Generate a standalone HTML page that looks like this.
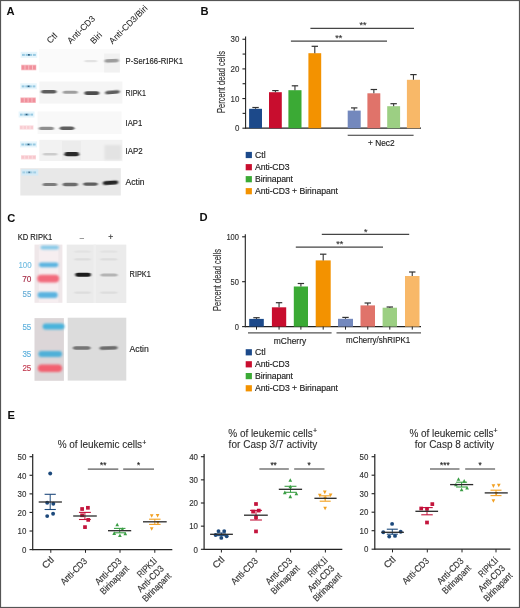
<!DOCTYPE html>
<html><head><meta charset="utf-8"><style>
html,body{margin:0;padding:0;background:#fff;}
body{width:520px;height:608px;overflow:hidden;}
svg{display:block;font-family:"Liberation Sans", sans-serif;}
</style></head><body>
<svg width="520" height="608" viewBox="0 0 520 608">
<defs>
<filter id="gblur" x="0" y="0" width="100%" height="100%" filterUnits="userSpaceOnUse"><feGaussianBlur stdDeviation="0.3"/></filter>
<filter id="b3" x="-20%" y="-100%" width="140%" height="300%"><feGaussianBlur stdDeviation="0.3"/></filter>
<filter id="b4" x="-10%" y="-10%" width="120%" height="120%"><feGaussianBlur stdDeviation="0.4"/></filter>
<filter id="bb" x="-20%" y="-150%" width="140%" height="400%"><feGaussianBlur stdDeviation="0.9 0.6"/></filter>
<filter id="b5" x="-20%" y="-100%" width="140%" height="300%"><feGaussianBlur stdDeviation="0.5"/></filter>
<filter id="b6" x="-20%" y="-100%" width="140%" height="300%"><feGaussianBlur stdDeviation="0.6"/></filter>
<filter id="b10" x="-20%" y="-100%" width="140%" height="300%"><feGaussianBlur stdDeviation="1.0"/></filter>
<filter id="b12" x="-20%" y="-100%" width="140%" height="300%"><feGaussianBlur stdDeviation="1.2"/></filter>
</defs>
<rect x="0" y="0" width="520" height="608" fill="#fff"/>
<g filter="url(#gblur)">
<text x="6.6" y="14.7" font-size="11.2" font-weight="bold" fill="#111">A</text>
<text x="200.5" y="14.8" font-size="11.2" font-weight="bold" fill="#111">B</text>
<text x="7.2" y="221.6" font-size="11.2" font-weight="bold" fill="#111">C</text>
<text x="199.6" y="220.9" font-size="11.2" font-weight="bold" fill="#111">D</text>
<text x="7.4" y="418.8" font-size="11.2" font-weight="bold" fill="#111">E</text>
<text x="0" y="0" font-size="8.7" fill="#222" stroke="#222" stroke-width="0.06" transform="translate(50.3,44.0) rotate(-45)">Ctl</text>
<text x="0" y="0" font-size="8.7" fill="#222" stroke="#222" stroke-width="0.06" transform="translate(70.8,44.2) rotate(-45)">Anti-CD3</text>
<text x="0" y="0" font-size="8.7" fill="#222" stroke="#222" stroke-width="0.06" transform="translate(93.7,44.4) rotate(-45)">Biri</text>
<text x="0" y="0" font-size="8.7" fill="#222" stroke="#222" stroke-width="0.06" transform="translate(112.6,44.4) rotate(-45)">Anti-CD3/Biri</text>
<g filter="url(#b4)">
<rect x="39.00" y="49.00" width="81.00" height="23.40" fill="#fafafa"/>
<rect x="104.20" y="53.50" width="15.60" height="19.00" fill="#f1f1f1" filter="url(#b6)"/>
<g opacity="1">
<rect x="20.60" y="51.80" width="16.60" height="6.00" fill="#e6f5fc" filter="url(#b6)"/>
<rect x="22.00" y="53.90" width="2.85" height="2.00" fill="#96c9e2" filter="url(#b3)"/>
<rect x="25.65" y="53.90" width="2.85" height="2.00" fill="#96c9e2" filter="url(#b3)"/>
<rect x="29.30" y="53.90" width="2.85" height="2.00" fill="#96c9e2" filter="url(#b3)"/>
<rect x="32.95" y="53.90" width="2.85" height="2.00" fill="#96c9e2" filter="url(#b3)"/>
<rect x="28.00" y="54.00" width="1.8" height="1.7" fill="#2f5f80" filter="url(#b3)"/>
</g>
<g opacity="1">
<rect x="21.20" y="64.70" width="15.10" height="5.60" fill="#f8bcc2" filter="url(#b5)"/>
<rect x="21.70" y="65.50" width="2.77" height="4.00" fill="#f0909c" filter="url(#b5)"/>
<rect x="25.47" y="65.50" width="2.77" height="4.00" fill="#f0909c" filter="url(#b5)"/>
<rect x="29.25" y="65.50" width="2.77" height="4.00" fill="#f0909c" filter="url(#b5)"/>
<rect x="33.02" y="65.50" width="2.77" height="4.00" fill="#f0909c" filter="url(#b5)"/>
</g>
<rect x="84.30" y="60.10" width="13.00" height="2.20" rx="2.5" ry="1.10" fill="#e2e2e2" opacity="1" filter="url(#bb)" transform="rotate(-0.00 90.80 61.20)"/>
<rect x="104.40" y="59.00" width="14.60" height="3.40" rx="2.5" ry="1.70" fill="#9c9c9c" opacity="1" filter="url(#bb)" transform="rotate(-2.35 111.70 60.70)"/>
<rect x="39.30" y="81.50" width="83.10" height="22.10" fill="#f5f5f5"/>
<g opacity="1">
<rect x="20.30" y="83.30" width="16.50" height="6.00" fill="#e6f5fc" filter="url(#b6)"/>
<rect x="21.70" y="85.40" width="2.82" height="2.00" fill="#96c9e2" filter="url(#b3)"/>
<rect x="25.32" y="85.40" width="2.82" height="2.00" fill="#96c9e2" filter="url(#b3)"/>
<rect x="28.95" y="85.40" width="2.82" height="2.00" fill="#96c9e2" filter="url(#b3)"/>
<rect x="32.57" y="85.40" width="2.82" height="2.00" fill="#96c9e2" filter="url(#b3)"/>
<rect x="27.65" y="85.50" width="1.8" height="1.7" fill="#2f5f80" filter="url(#b3)"/>
</g>
<g opacity="1">
<rect x="20.40" y="97.40" width="15.40" height="5.60" fill="#f8bcc2" filter="url(#b5)"/>
<rect x="20.90" y="98.20" width="2.85" height="4.00" fill="#f0909c" filter="url(#b5)"/>
<rect x="24.75" y="98.20" width="2.85" height="4.00" fill="#f0909c" filter="url(#b5)"/>
<rect x="28.60" y="98.20" width="2.85" height="4.00" fill="#f0909c" filter="url(#b5)"/>
<rect x="32.45" y="98.20" width="2.85" height="4.00" fill="#f0909c" filter="url(#b5)"/>
</g>
<rect x="41.00" y="90.00" width="15.60" height="3.60" rx="2.5" ry="1.80" fill="#5c5c5c" opacity="1" filter="url(#bb)" transform="rotate(-0.00 48.80 91.80)"/>
<rect x="62.70" y="90.70" width="15.20" height="3.00" rx="2.5" ry="1.50" fill="#9e9e9e" opacity="1" filter="url(#bb)" transform="rotate(-0.00 70.30 92.20)"/>
<rect x="84.30" y="91.20" width="15.10" height="3.80" rx="2.5" ry="1.90" fill="#4e4e4e" opacity="1" filter="url(#bb)" transform="rotate(-0.00 91.85 93.10)"/>
<rect x="105.00" y="90.40" width="14.80" height="3.60" rx="2.5" ry="1.80" fill="#5e5e5e" opacity="1" filter="url(#bb)" transform="rotate(-4.64 112.40 92.20)"/>
<rect x="37.60" y="111.50" width="83.90" height="22.50" fill="#f8f8f8"/>
<g opacity="1">
<rect x="18.60" y="111.50" width="15.90" height="6.00" fill="#e6f5fc" filter="url(#b6)"/>
<rect x="20.00" y="113.60" width="2.67" height="2.00" fill="#96c9e2" filter="url(#b3)"/>
<rect x="23.48" y="113.60" width="2.67" height="2.00" fill="#96c9e2" filter="url(#b3)"/>
<rect x="26.95" y="113.60" width="2.67" height="2.00" fill="#96c9e2" filter="url(#b3)"/>
<rect x="30.42" y="113.60" width="2.67" height="2.00" fill="#96c9e2" filter="url(#b3)"/>
<rect x="25.65" y="113.70" width="1.8" height="1.7" fill="#2f5f80" filter="url(#b3)"/>
</g>
<g opacity="0.45">
<rect x="19.60" y="125.30" width="13.90" height="4.40" fill="#f8bcc2" filter="url(#b5)"/>
<rect x="20.10" y="126.10" width="2.47" height="2.80" fill="#f0909c" filter="url(#b5)"/>
<rect x="23.58" y="126.10" width="2.47" height="2.80" fill="#f0909c" filter="url(#b5)"/>
<rect x="27.05" y="126.10" width="2.47" height="2.80" fill="#f0909c" filter="url(#b5)"/>
<rect x="30.52" y="126.10" width="2.47" height="2.80" fill="#f0909c" filter="url(#b5)"/>
</g>
<rect x="38.80" y="126.80" width="15.20" height="3.20" rx="2.5" ry="1.60" fill="#8e8e8e" opacity="1" filter="url(#bb)" transform="rotate(-0.00 46.40 128.40)"/>
<rect x="59.60" y="126.40" width="14.80" height="3.60" rx="2.5" ry="1.80" fill="#5e5e5e" opacity="1" filter="url(#bb)" transform="rotate(-0.00 67.00 128.20)"/>
<rect x="39.30" y="139.80" width="83.10" height="21.20" fill="#f2f2f2"/>
<rect x="62.00" y="141.00" width="19.00" height="19.00" fill="#ececec" filter="url(#b6)"/>
<rect x="104.50" y="145.00" width="16.50" height="15.00" fill="#e3e3e3" filter="url(#b10)"/>
<g opacity="1">
<rect x="20.00" y="141.40" width="17.00" height="6.00" fill="#e6f5fc" filter="url(#b6)"/>
<rect x="21.40" y="143.50" width="2.95" height="2.00" fill="#96c9e2" filter="url(#b3)"/>
<rect x="25.15" y="143.50" width="2.95" height="2.00" fill="#96c9e2" filter="url(#b3)"/>
<rect x="28.90" y="143.50" width="2.95" height="2.00" fill="#96c9e2" filter="url(#b3)"/>
<rect x="32.65" y="143.50" width="2.95" height="2.00" fill="#96c9e2" filter="url(#b3)"/>
<rect x="27.60" y="143.60" width="1.8" height="1.7" fill="#2f5f80" filter="url(#b3)"/>
</g>
<g opacity="0.5">
<rect x="21.00" y="155.10" width="15.00" height="4.40" fill="#f8bcc2" filter="url(#b5)"/>
<rect x="21.50" y="155.90" width="2.75" height="2.80" fill="#f0909c" filter="url(#b5)"/>
<rect x="25.25" y="155.90" width="2.75" height="2.80" fill="#f0909c" filter="url(#b5)"/>
<rect x="29.00" y="155.90" width="2.75" height="2.80" fill="#f0909c" filter="url(#b5)"/>
<rect x="32.75" y="155.90" width="2.75" height="2.80" fill="#f0909c" filter="url(#b5)"/>
</g>
<rect x="42.80" y="153.00" width="14.70" height="2.60" rx="2.5" ry="1.30" fill="#cccccc" opacity="1" filter="url(#bb)" transform="rotate(-0.00 50.15 154.30)"/>
<rect x="64.40" y="152.10" width="14.70" height="4.20" rx="2.5" ry="2.10" fill="#2a2a2a" opacity="1" filter="url(#bb)" transform="rotate(-0.00 71.75 154.20)"/>
<rect x="20.30" y="168.20" width="100.50" height="27.30" fill="#e8e8e8"/>
<rect x="21.30" y="169.30" width="17.00" height="6.30" fill="#d4eaf6" filter="url(#b5)"/>
<g opacity="0.8">
<rect x="22.40" y="171.40" width="2.83" height="2.00" fill="#96c9e2" filter="url(#b3)"/>
<rect x="26.02" y="171.40" width="2.83" height="2.00" fill="#96c9e2" filter="url(#b3)"/>
<rect x="29.65" y="171.40" width="2.83" height="2.00" fill="#96c9e2" filter="url(#b3)"/>
<rect x="33.27" y="171.40" width="2.83" height="2.00" fill="#96c9e2" filter="url(#b3)"/>
<rect x="28.35" y="171.50" width="1.8" height="1.7" fill="#2f5f80" filter="url(#b3)"/>
</g>
<rect x="42.50" y="182.90" width="14.80" height="3.20" rx="2.5" ry="1.60" fill="#7c7c7c" opacity="1" filter="url(#bb)" transform="rotate(-0.00 49.90 184.50)"/>
<rect x="62.60" y="182.80" width="15.40" height="3.40" rx="2.5" ry="1.70" fill="#6c6c6c" opacity="1" filter="url(#bb)" transform="rotate(-0.00 70.30 184.50)"/>
<rect x="83.10" y="182.40" width="14.80" height="3.40" rx="2.5" ry="1.70" fill="#5e5e5e" opacity="1" filter="url(#bb)" transform="rotate(-0.00 90.50 184.10)"/>
<rect x="102.80" y="180.70" width="15.40" height="4.00" rx="2.5" ry="2.00" fill="#262626" opacity="1" filter="url(#bb)" transform="rotate(-3.72 110.50 182.70)"/>
</g>
<text x="125.6" y="63.7" font-size="9.2" textLength="57.4" lengthAdjust="spacingAndGlyphs" fill="#222" stroke="#222" stroke-width="0.15">P-Ser166-RIPK1</text>
<text x="125.6" y="96.0" font-size="9.2" textLength="20.4" lengthAdjust="spacingAndGlyphs" fill="#222" stroke="#222" stroke-width="0.15">RIPK1</text>
<text x="125.6" y="125.6" font-size="9.2" textLength="16.7" lengthAdjust="spacingAndGlyphs" fill="#222" stroke="#222" stroke-width="0.15">IAP1</text>
<text x="125.6" y="153.9" font-size="9.2" textLength="17.1" lengthAdjust="spacingAndGlyphs" fill="#222" stroke="#222" stroke-width="0.15">IAP2</text>
<text x="125.6" y="184.8" font-size="9.2" textLength="19.0" lengthAdjust="spacingAndGlyphs" fill="#222" stroke="#222" stroke-width="0.15">Actin</text>
<line x1="245.60" y1="36.40" x2="245.60" y2="128.80" stroke="#222" stroke-width="1.1"/>
<line x1="242.40" y1="128.20" x2="245.60" y2="128.20" stroke="#222" stroke-width="1.1"/>
<text x="239.4" y="131.2072" font-size="8.4" text-anchor="end" textLength="4.40" lengthAdjust="spacingAndGlyphs" fill="#333" stroke="#333" stroke-width="0.15">0</text>
<line x1="242.40" y1="98.55" x2="245.60" y2="98.55" stroke="#222" stroke-width="1.1"/>
<text x="239.4" y="101.55719999999998" font-size="8.4" text-anchor="end" textLength="8.80" lengthAdjust="spacingAndGlyphs" fill="#333" stroke="#333" stroke-width="0.15">10</text>
<line x1="242.40" y1="68.90" x2="245.60" y2="68.90" stroke="#222" stroke-width="1.1"/>
<text x="239.4" y="71.90719999999999" font-size="8.4" text-anchor="end" textLength="8.80" lengthAdjust="spacingAndGlyphs" fill="#333" stroke="#333" stroke-width="0.15">20</text>
<line x1="242.40" y1="39.25" x2="245.60" y2="39.25" stroke="#222" stroke-width="1.1"/>
<text x="239.4" y="42.2572" font-size="8.4" text-anchor="end" textLength="8.80" lengthAdjust="spacingAndGlyphs" fill="#333" stroke="#333" stroke-width="0.15">30</text>
<line x1="242.60" y1="113.37" x2="245.60" y2="113.37" stroke="#222" stroke-width="1.1"/>
<line x1="242.60" y1="83.72" x2="245.60" y2="83.72" stroke="#222" stroke-width="1.1"/>
<line x1="242.60" y1="54.07" x2="245.60" y2="54.07" stroke="#222" stroke-width="1.1"/>
<line x1="245.60" y1="128.20" x2="421.00" y2="128.20" stroke="#222" stroke-width="1.3"/>
<text x="0" y="0" font-size="10.2" fill="#333" text-anchor="middle" textLength="62.0" lengthAdjust="spacingAndGlyphs" transform="translate(225.0,82.0) rotate(-90)" stroke="#333" stroke-width="0.15">Percent dead cells</text>
<rect x="249.10" y="108.80" width="12.90" height="19.40" fill="#1a4a8a"/>
<line x1="255.55" y1="108.80" x2="255.55" y2="107.50" stroke="#333" stroke-width="1.1"/>
<line x1="252.35" y1="107.50" x2="258.75" y2="107.50" stroke="#333" stroke-width="1.2"/>
<rect x="269.00" y="92.20" width="12.80" height="36.00" fill="#c8102e"/>
<line x1="275.40" y1="92.20" x2="275.40" y2="90.60" stroke="#333" stroke-width="1.1"/>
<line x1="272.20" y1="90.60" x2="278.60" y2="90.60" stroke="#333" stroke-width="1.2"/>
<rect x="288.40" y="90.20" width="13.10" height="38.00" fill="#3aaa35"/>
<line x1="294.95" y1="90.20" x2="294.95" y2="85.80" stroke="#333" stroke-width="1.1"/>
<line x1="291.75" y1="85.80" x2="298.15" y2="85.80" stroke="#333" stroke-width="1.2"/>
<rect x="308.40" y="53.20" width="12.80" height="75.00" fill="#f39200"/>
<line x1="314.80" y1="53.20" x2="314.80" y2="46.30" stroke="#333" stroke-width="1.1"/>
<line x1="311.60" y1="46.30" x2="318.00" y2="46.30" stroke="#333" stroke-width="1.2"/>
<rect x="347.70" y="110.60" width="13.00" height="17.60" fill="#7388bd"/>
<line x1="354.20" y1="110.60" x2="354.20" y2="107.90" stroke="#333" stroke-width="1.1"/>
<line x1="351.00" y1="107.90" x2="357.40" y2="107.90" stroke="#333" stroke-width="1.2"/>
<rect x="367.40" y="93.30" width="12.90" height="34.90" fill="#e0736a"/>
<line x1="373.85" y1="93.30" x2="373.85" y2="89.50" stroke="#333" stroke-width="1.1"/>
<line x1="370.65" y1="89.50" x2="377.05" y2="89.50" stroke="#333" stroke-width="1.2"/>
<rect x="387.20" y="106.20" width="12.90" height="22.00" fill="#9ccf83"/>
<line x1="393.65" y1="106.20" x2="393.65" y2="103.70" stroke="#333" stroke-width="1.1"/>
<line x1="390.45" y1="103.70" x2="396.85" y2="103.70" stroke="#333" stroke-width="1.2"/>
<rect x="406.90" y="79.80" width="13.10" height="48.40" fill="#f8b867"/>
<line x1="413.45" y1="79.80" x2="413.45" y2="74.60" stroke="#333" stroke-width="1.1"/>
<line x1="410.25" y1="74.60" x2="416.65" y2="74.60" stroke="#333" stroke-width="1.2"/>
<line x1="347.70" y1="135.30" x2="413.60" y2="135.30" stroke="#333" stroke-width="1.1"/>
<text x="368.0" y="146.3" font-size="9.0" textLength="26.6" lengthAdjust="spacingAndGlyphs" fill="#222" stroke="#222" stroke-width="0.15">+ Nec2</text>
<line x1="310.40" y1="28.30" x2="414.00" y2="28.30" stroke="#444" stroke-width="1.2"/>
<line x1="290.90" y1="41.10" x2="387.00" y2="41.10" stroke="#444" stroke-width="1.2"/>
<text x="363.0" y="27.8" font-size="9" text-anchor="middle" fill="#333" stroke="#333" stroke-width="0.15">**</text>
<text x="338.8" y="41.4" font-size="9" text-anchor="middle" fill="#333" stroke="#333" stroke-width="0.15">**</text>
<rect x="245.70" y="151.90" width="6.20" height="6.20" fill="#1a4a8a"/>
<text x="255.0" y="158.1" font-size="8.7" textLength="10.8" lengthAdjust="spacing" fill="#222" stroke="#222" stroke-width="0.15">Ctl</text>
<rect x="245.70" y="164.10" width="6.20" height="6.20" fill="#c8102e"/>
<text x="255.0" y="170.29999999999998" font-size="8.7" textLength="34.5" lengthAdjust="spacing" fill="#222" stroke="#222" stroke-width="0.15">Anti-CD3</text>
<rect x="245.70" y="176.10" width="6.20" height="6.20" fill="#3aaa35"/>
<text x="255.0" y="182.29999999999998" font-size="8.7" textLength="38.0" lengthAdjust="spacing" fill="#222" stroke="#222" stroke-width="0.15">Birinapant</text>
<rect x="245.70" y="188.10" width="6.20" height="6.20" fill="#f39200"/>
<text x="255.0" y="194.29999999999998" font-size="8.7" textLength="83.0" lengthAdjust="spacing" fill="#222" stroke="#222" stroke-width="0.15">Anti-CD3 + Birinapant</text>
<line x1="245.30" y1="234.20" x2="245.30" y2="327.20" stroke="#222" stroke-width="1.1"/>
<line x1="242.10" y1="326.60" x2="245.30" y2="326.60" stroke="#222" stroke-width="1.1"/>
<text x="239.0" y="329.60720000000003" font-size="8.4" text-anchor="end" textLength="4.20" lengthAdjust="spacingAndGlyphs" fill="#333" stroke="#333" stroke-width="0.15">0</text>
<line x1="242.10" y1="281.70" x2="245.30" y2="281.70" stroke="#222" stroke-width="1.1"/>
<text x="239.0" y="284.70720000000006" font-size="8.4" text-anchor="end" textLength="8.40" lengthAdjust="spacingAndGlyphs" fill="#333" stroke="#333" stroke-width="0.15">50</text>
<line x1="242.10" y1="236.80" x2="245.30" y2="236.80" stroke="#222" stroke-width="1.1"/>
<text x="239.0" y="239.80720000000002" font-size="8.4" text-anchor="end" textLength="12.60" lengthAdjust="spacingAndGlyphs" fill="#333" stroke="#333" stroke-width="0.15">100</text>
<line x1="245.30" y1="326.60" x2="421.00" y2="326.60" stroke="#222" stroke-width="1.3"/>
<text x="0" y="0" font-size="10.2" fill="#333" text-anchor="middle" textLength="62.0" lengthAdjust="spacingAndGlyphs" transform="translate(221.3,280.0) rotate(-90)" stroke="#333" stroke-width="0.15">Percent dead cells</text>
<rect x="249.20" y="318.90" width="14.60" height="7.70" fill="#1a4a8a"/>
<line x1="256.50" y1="318.90" x2="256.50" y2="317.70" stroke="#333" stroke-width="1.1"/>
<line x1="253.30" y1="317.70" x2="259.70" y2="317.70" stroke="#333" stroke-width="1.2"/>
<line x1="256.50" y1="326.60" x2="256.50" y2="329.60" stroke="#222" stroke-width="1.0"/>
<rect x="271.90" y="307.30" width="14.30" height="19.30" fill="#c8102e"/>
<line x1="279.05" y1="307.30" x2="279.05" y2="302.70" stroke="#333" stroke-width="1.1"/>
<line x1="275.85" y1="302.70" x2="282.25" y2="302.70" stroke="#333" stroke-width="1.2"/>
<line x1="279.05" y1="326.60" x2="279.05" y2="329.60" stroke="#222" stroke-width="1.0"/>
<rect x="293.80" y="286.50" width="14.20" height="40.10" fill="#3aaa35"/>
<line x1="300.90" y1="286.50" x2="300.90" y2="283.50" stroke="#333" stroke-width="1.1"/>
<line x1="297.70" y1="283.50" x2="304.10" y2="283.50" stroke="#333" stroke-width="1.2"/>
<line x1="300.90" y1="326.60" x2="300.90" y2="329.60" stroke="#222" stroke-width="1.0"/>
<rect x="315.70" y="260.40" width="15.00" height="66.20" fill="#f39200"/>
<line x1="323.20" y1="260.40" x2="323.20" y2="254.20" stroke="#333" stroke-width="1.1"/>
<line x1="320.00" y1="254.20" x2="326.40" y2="254.20" stroke="#333" stroke-width="1.2"/>
<line x1="323.20" y1="326.60" x2="323.20" y2="329.60" stroke="#222" stroke-width="1.0"/>
<rect x="338.00" y="318.80" width="15.00" height="7.80" fill="#7388bd"/>
<line x1="345.50" y1="318.80" x2="345.50" y2="317.40" stroke="#333" stroke-width="1.1"/>
<line x1="342.30" y1="317.40" x2="348.70" y2="317.40" stroke="#333" stroke-width="1.2"/>
<line x1="345.50" y1="326.60" x2="345.50" y2="329.60" stroke="#222" stroke-width="1.0"/>
<rect x="360.50" y="305.40" width="14.50" height="21.20" fill="#e0736a"/>
<line x1="367.75" y1="305.40" x2="367.75" y2="303.00" stroke="#333" stroke-width="1.1"/>
<line x1="364.55" y1="303.00" x2="370.95" y2="303.00" stroke="#333" stroke-width="1.2"/>
<line x1="367.75" y1="326.60" x2="367.75" y2="329.60" stroke="#222" stroke-width="1.0"/>
<rect x="382.60" y="307.70" width="14.40" height="18.90" fill="#9ccf83"/>
<line x1="389.80" y1="307.70" x2="389.80" y2="307.00" stroke="#333" stroke-width="1.1"/>
<line x1="386.60" y1="307.00" x2="393.00" y2="307.00" stroke="#333" stroke-width="1.2"/>
<line x1="389.80" y1="326.60" x2="389.80" y2="329.60" stroke="#222" stroke-width="1.0"/>
<rect x="405.00" y="276.00" width="14.50" height="50.60" fill="#f8b867"/>
<line x1="412.25" y1="276.00" x2="412.25" y2="272.00" stroke="#333" stroke-width="1.1"/>
<line x1="409.05" y1="272.00" x2="415.45" y2="272.00" stroke="#333" stroke-width="1.2"/>
<line x1="412.25" y1="326.60" x2="412.25" y2="329.60" stroke="#222" stroke-width="1.0"/>
<line x1="248.00" y1="332.90" x2="331.60" y2="332.90" stroke="#555" stroke-width="1.3"/>
<line x1="336.50" y1="332.90" x2="421.00" y2="332.90" stroke="#555" stroke-width="1.3"/>
<text x="273.8" y="344.0" font-size="9.0" textLength="32.4" lengthAdjust="spacingAndGlyphs" fill="#222" stroke="#222" stroke-width="0.15">mCherry</text>
<text x="346.0" y="343.3" font-size="9.0" textLength="64.3" lengthAdjust="spacingAndGlyphs" fill="#222" stroke="#222" stroke-width="0.15">mCherry/shRIPK1</text>
<line x1="321.80" y1="234.30" x2="409.20" y2="234.30" stroke="#444" stroke-width="1.2"/>
<line x1="295.80" y1="247.10" x2="383.00" y2="247.10" stroke="#444" stroke-width="1.2"/>
<text x="365.8" y="234.6" font-size="9" text-anchor="middle" fill="#333" stroke="#333" stroke-width="0.15">*</text>
<text x="339.7" y="247.4" font-size="9" text-anchor="middle" fill="#333" stroke="#333" stroke-width="0.15">**</text>
<rect x="245.70" y="349.20" width="6.20" height="6.20" fill="#1a4a8a"/>
<text x="255.0" y="355.40000000000003" font-size="8.7" textLength="10.8" lengthAdjust="spacing" fill="#222" stroke="#222" stroke-width="0.15">Ctl</text>
<rect x="245.70" y="361.20" width="6.20" height="6.20" fill="#c8102e"/>
<text x="255.0" y="367.40000000000003" font-size="8.7" textLength="34.5" lengthAdjust="spacing" fill="#222" stroke="#222" stroke-width="0.15">Anti-CD3</text>
<rect x="245.70" y="373.00" width="6.20" height="6.20" fill="#3aaa35"/>
<text x="255.0" y="379.20000000000005" font-size="8.7" textLength="38.0" lengthAdjust="spacing" fill="#222" stroke="#222" stroke-width="0.15">Birinapant</text>
<rect x="245.70" y="385.20" width="6.20" height="6.20" fill="#f39200"/>
<text x="255.0" y="391.40000000000003" font-size="8.7" textLength="83.0" lengthAdjust="spacing" fill="#222" stroke="#222" stroke-width="0.15">Anti-CD3 + Birinapant</text>
<text x="17.7" y="239.8" font-size="9.0" textLength="34.6" lengthAdjust="spacingAndGlyphs" fill="#222" stroke="#222" stroke-width="0.15">KD RIPK1</text>
<text x="81.9" y="239.9" font-size="8.0" text-anchor="middle" textLength="4.2" lengthAdjust="spacingAndGlyphs" fill="#333" stroke="#333" stroke-width="0.15">–</text>
<text x="110.8" y="240.2" font-size="8.5" text-anchor="middle" fill="#333" stroke="#333" stroke-width="0.15">+</text>
<g filter="url(#b4)">
<rect x="34.50" y="244.60" width="27.90" height="58.20" fill="#efe7e9"/>
<rect x="38.80" y="244.60" width="19.60" height="58.20" fill="#f6eef0"/>
<rect x="40.50" y="245.60" width="18.40" height="3.80" rx="1.90" fill="#86c9e8" opacity="1" filter="url(#b10)"/>
<rect x="38.80" y="262.40" width="19.60" height="4.80" rx="2.40" fill="#5ab3e0" opacity="1" filter="url(#b10)"/>
<rect x="37.20" y="274.70" width="22.00" height="7.80" rx="3.90" fill="#f26a7c" opacity="1" filter="url(#b10)"/>
<rect x="37.60" y="292.10" width="20.20" height="5.80" rx="2.90" fill="#5ab3e0" opacity="1" filter="url(#b10)"/>
<rect x="66.70" y="244.60" width="59.60" height="58.40" fill="#ebebeb"/>
<rect x="93.50" y="244.60" width="2.50" height="58.40" fill="#f0f0f0" opacity="0.8"/>
<rect x="75.20" y="272.80" width="15.80" height="4.00" rx="2.5" ry="2.00" fill="#1e1e1e" opacity="1" filter="url(#bb)" transform="rotate(-0.00 83.10 274.80)"/>
<rect x="100.40" y="273.40" width="17.30" height="3.00" rx="2.5" ry="1.50" fill="#b4b4b4" opacity="1" filter="url(#bb)" transform="rotate(-0.00 109.05 274.90)"/>
<rect x="74.00" y="250.60" width="17.00" height="2.20" rx="2.5" ry="1.10" fill="#d0d0d0" opacity="0.3" filter="url(#bb)" transform="rotate(-0.00 82.50 251.70)"/>
<rect x="100.00" y="250.60" width="17.50" height="2.20" rx="2.5" ry="1.10" fill="#d0d0d0" opacity="0.3" filter="url(#bb)" transform="rotate(-0.00 108.75 251.70)"/>
<rect x="74.00" y="258.30" width="17.00" height="2.20" rx="2.5" ry="1.10" fill="#d0d0d0" opacity="0.5" filter="url(#bb)" transform="rotate(-0.00 82.50 259.40)"/>
<rect x="100.00" y="258.30" width="17.50" height="2.20" rx="2.5" ry="1.10" fill="#d0d0d0" opacity="0.5" filter="url(#bb)" transform="rotate(-0.00 108.75 259.40)"/>
<rect x="74.00" y="291.60" width="17.00" height="2.20" rx="2.5" ry="1.10" fill="#d0d0d0" opacity="0.5" filter="url(#bb)" transform="rotate(-0.00 82.50 292.70)"/>
<rect x="100.00" y="291.60" width="17.50" height="2.20" rx="2.5" ry="1.10" fill="#d0d0d0" opacity="0.5" filter="url(#bb)" transform="rotate(-0.00 108.75 292.70)"/>
</g>
<text x="31.6" y="268.0" font-size="9.0" text-anchor="end" textLength="13.2" lengthAdjust="spacingAndGlyphs" fill="#74bde0" stroke="#74bde0" stroke-width="0.15">100</text>
<text x="31.4" y="282.0" font-size="9.0" text-anchor="end" textLength="9.2" lengthAdjust="spacingAndGlyphs" fill="#a8304a" stroke="#a8304a" stroke-width="0.15">70</text>
<text x="31.3" y="296.5" font-size="9.0" text-anchor="end" textLength="8.8" lengthAdjust="spacingAndGlyphs" fill="#6aaed6" stroke="#6aaed6" stroke-width="0.15">55</text>
<text x="129.6" y="277.1" font-size="9.2" textLength="21.2" lengthAdjust="spacingAndGlyphs" fill="#222" stroke="#222" stroke-width="0.15">RIPK1</text>
<g filter="url(#b4)">
<rect x="34.50" y="318.10" width="29.40" height="62.70" fill="#dcd6d8"/>
<rect x="42.60" y="323.60" width="21.90" height="6.00" rx="3.00" fill="#49b3dc" opacity="1" filter="url(#b10)"/>
<rect x="38.40" y="351.00" width="23.70" height="6.00" rx="3.00" fill="#4fb0d8" opacity="1" filter="url(#b10)"/>
<rect x="37.80" y="364.50" width="24.30" height="7.60" rx="3.80" fill="#f26070" opacity="1" filter="url(#b10)"/>
<rect x="67.70" y="317.70" width="58.60" height="62.90" fill="#dcdcdc"/>
<rect x="72.80" y="346.20" width="17.80" height="3.60" rx="2.5" ry="1.80" fill="#747474" opacity="1" filter="url(#bb)" transform="rotate(-0.00 81.70 348.00)"/>
<rect x="99.40" y="346.20" width="18.30" height="3.60" rx="2.5" ry="1.80" fill="#6c6c6c" opacity="1" filter="url(#bb)" transform="rotate(-1.88 108.55 348.00)"/>
</g>
<text x="31.3" y="329.8" font-size="9.2" text-anchor="end" textLength="8.9" lengthAdjust="spacingAndGlyphs" fill="#5fb0dc" stroke="#5fb0dc" stroke-width="0.15">55</text>
<text x="31.3" y="357.3" font-size="9.2" text-anchor="end" textLength="8.9" lengthAdjust="spacingAndGlyphs" fill="#5fb0dc" stroke="#5fb0dc" stroke-width="0.15">35</text>
<text x="31.3" y="371.1" font-size="9.2" text-anchor="end" textLength="8.9" lengthAdjust="spacingAndGlyphs" fill="#c23a50" stroke="#c23a50" stroke-width="0.15">25</text>
<text x="129.6" y="352.3" font-size="9.2" textLength="19.2" lengthAdjust="spacingAndGlyphs" fill="#222" stroke="#222" stroke-width="0.15">Actin</text>
<line x1="32.70" y1="454.10" x2="32.70" y2="550.20" stroke="#222" stroke-width="1.2"/>
<line x1="29.50" y1="549.60" x2="32.70" y2="549.60" stroke="#222" stroke-width="1.1"/>
<text x="26.4" y="552.822" font-size="9.0" text-anchor="end" textLength="4.40" lengthAdjust="spacingAndGlyphs" fill="#333" stroke="#333" stroke-width="0.15">0</text>
<line x1="29.50" y1="531.02" x2="32.70" y2="531.02" stroke="#222" stroke-width="1.1"/>
<text x="26.4" y="534.242" font-size="9.0" text-anchor="end" textLength="8.80" lengthAdjust="spacingAndGlyphs" fill="#333" stroke="#333" stroke-width="0.15">10</text>
<line x1="29.50" y1="512.44" x2="32.70" y2="512.44" stroke="#222" stroke-width="1.1"/>
<text x="26.4" y="515.662" font-size="9.0" text-anchor="end" textLength="8.80" lengthAdjust="spacingAndGlyphs" fill="#333" stroke="#333" stroke-width="0.15">20</text>
<line x1="29.50" y1="493.86" x2="32.70" y2="493.86" stroke="#222" stroke-width="1.1"/>
<text x="26.4" y="497.082" font-size="9.0" text-anchor="end" textLength="8.80" lengthAdjust="spacingAndGlyphs" fill="#333" stroke="#333" stroke-width="0.15">30</text>
<line x1="29.50" y1="475.28" x2="32.70" y2="475.28" stroke="#222" stroke-width="1.1"/>
<text x="26.4" y="478.502" font-size="9.0" text-anchor="end" textLength="8.80" lengthAdjust="spacingAndGlyphs" fill="#333" stroke="#333" stroke-width="0.15">40</text>
<line x1="29.50" y1="456.70" x2="32.70" y2="456.70" stroke="#222" stroke-width="1.1"/>
<text x="26.4" y="459.922" font-size="9.0" text-anchor="end" textLength="8.80" lengthAdjust="spacingAndGlyphs" fill="#333" stroke="#333" stroke-width="0.15">50</text>
<line x1="32.70" y1="549.60" x2="172.30" y2="549.60" stroke="#222" stroke-width="1.3"/>
<line x1="50.80" y1="549.60" x2="50.80" y2="552.80" stroke="#222" stroke-width="1.0"/>
<line x1="85.50" y1="549.60" x2="85.50" y2="552.80" stroke="#222" stroke-width="1.0"/>
<line x1="120.00" y1="549.60" x2="120.00" y2="552.80" stroke="#222" stroke-width="1.0"/>
<line x1="154.80" y1="549.60" x2="154.80" y2="552.80" stroke="#222" stroke-width="1.0"/>
<g transform="translate(50.80,549.60) rotate(-45)"><text x="-5.00" y="10.30" font-size="9.4" fill="#333" text-anchor="end" textLength="12.50" lengthAdjust="spacingAndGlyphs" stroke="#333" stroke-width="0.15">Ctl</text></g>
<g transform="translate(85.50,549.60) rotate(-45)"><text x="-7.00" y="10.30" font-size="9.4" fill="#333" text-anchor="end" textLength="33.50" lengthAdjust="spacingAndGlyphs" stroke="#333" stroke-width="0.15">Anti-CD3</text></g>
<g transform="translate(120.00,549.60) rotate(-45)"><text x="-7.00" y="10.30" font-size="9.4" fill="#333" text-anchor="end" textLength="33.50" lengthAdjust="spacingAndGlyphs" stroke="#333" stroke-width="0.15">Anti-CD3</text><text x="-7.00" y="20.70" font-size="9.4" fill="#333" text-anchor="end" textLength="36.50" lengthAdjust="spacingAndGlyphs" stroke="#333" stroke-width="0.15">Birinapant</text></g>
<g transform="translate(154.80,549.60) rotate(-45)"><text x="-6.50" y="10.30" font-size="9.4" fill="#333" text-anchor="end" textLength="23.50" lengthAdjust="spacingAndGlyphs" stroke="#333" stroke-width="0.15">RIPK1i</text><text x="-7.00" y="20.70" font-size="9.4" fill="#333" text-anchor="end" textLength="33.50" lengthAdjust="spacingAndGlyphs" stroke="#333" stroke-width="0.15">Anti-CD3</text><text x="-7.00" y="31.10" font-size="9.4" fill="#333" text-anchor="end" textLength="36.50" lengthAdjust="spacingAndGlyphs" stroke="#333" stroke-width="0.15">Birinapant</text></g>
<line x1="204.10" y1="454.10" x2="204.10" y2="549.90" stroke="#222" stroke-width="1.2"/>
<line x1="200.90" y1="549.30" x2="204.10" y2="549.30" stroke="#222" stroke-width="1.1"/>
<text x="198.0" y="552.5219999999999" font-size="9.0" text-anchor="end" textLength="4.40" lengthAdjust="spacingAndGlyphs" fill="#333" stroke="#333" stroke-width="0.15">0</text>
<line x1="200.90" y1="526.15" x2="204.10" y2="526.15" stroke="#222" stroke-width="1.1"/>
<text x="198.0" y="529.372" font-size="9.0" text-anchor="end" textLength="8.80" lengthAdjust="spacingAndGlyphs" fill="#333" stroke="#333" stroke-width="0.15">10</text>
<line x1="200.90" y1="503.00" x2="204.10" y2="503.00" stroke="#222" stroke-width="1.1"/>
<text x="198.0" y="506.2219999999999" font-size="9.0" text-anchor="end" textLength="8.80" lengthAdjust="spacingAndGlyphs" fill="#333" stroke="#333" stroke-width="0.15">20</text>
<line x1="200.90" y1="479.85" x2="204.10" y2="479.85" stroke="#222" stroke-width="1.1"/>
<text x="198.0" y="483.07199999999995" font-size="9.0" text-anchor="end" textLength="8.80" lengthAdjust="spacingAndGlyphs" fill="#333" stroke="#333" stroke-width="0.15">30</text>
<line x1="200.90" y1="456.70" x2="204.10" y2="456.70" stroke="#222" stroke-width="1.1"/>
<text x="198.0" y="459.9219999999999" font-size="9.0" text-anchor="end" textLength="8.80" lengthAdjust="spacingAndGlyphs" fill="#333" stroke="#333" stroke-width="0.15">40</text>
<line x1="204.10" y1="549.30" x2="342.30" y2="549.30" stroke="#222" stroke-width="1.3"/>
<line x1="221.40" y1="549.30" x2="221.40" y2="552.50" stroke="#222" stroke-width="1.0"/>
<line x1="256.20" y1="549.30" x2="256.20" y2="552.50" stroke="#222" stroke-width="1.0"/>
<line x1="290.60" y1="549.30" x2="290.60" y2="552.50" stroke="#222" stroke-width="1.0"/>
<line x1="325.40" y1="549.30" x2="325.40" y2="552.50" stroke="#222" stroke-width="1.0"/>
<g transform="translate(221.40,549.30) rotate(-45)"><text x="-5.00" y="10.30" font-size="9.4" fill="#333" text-anchor="end" textLength="12.50" lengthAdjust="spacingAndGlyphs" stroke="#333" stroke-width="0.15">Ctl</text></g>
<g transform="translate(256.20,549.30) rotate(-45)"><text x="-7.00" y="10.30" font-size="9.4" fill="#333" text-anchor="end" textLength="33.50" lengthAdjust="spacingAndGlyphs" stroke="#333" stroke-width="0.15">Anti-CD3</text></g>
<g transform="translate(290.60,549.30) rotate(-45)"><text x="-7.00" y="10.30" font-size="9.4" fill="#333" text-anchor="end" textLength="33.50" lengthAdjust="spacingAndGlyphs" stroke="#333" stroke-width="0.15">Anti-CD3</text><text x="-7.00" y="20.70" font-size="9.4" fill="#333" text-anchor="end" textLength="36.50" lengthAdjust="spacingAndGlyphs" stroke="#333" stroke-width="0.15">Birinapant</text></g>
<g transform="translate(325.40,549.30) rotate(-45)"><text x="-6.50" y="10.30" font-size="9.4" fill="#333" text-anchor="end" textLength="23.50" lengthAdjust="spacingAndGlyphs" stroke="#333" stroke-width="0.15">RIPK1i</text><text x="-7.00" y="20.70" font-size="9.4" fill="#333" text-anchor="end" textLength="33.50" lengthAdjust="spacingAndGlyphs" stroke="#333" stroke-width="0.15">Anti-CD3</text><text x="-7.00" y="31.10" font-size="9.4" fill="#333" text-anchor="end" textLength="36.50" lengthAdjust="spacingAndGlyphs" stroke="#333" stroke-width="0.15">Birinapant</text></g>
<line x1="374.80" y1="454.10" x2="374.80" y2="549.80" stroke="#222" stroke-width="1.2"/>
<line x1="371.60" y1="549.20" x2="374.80" y2="549.20" stroke="#222" stroke-width="1.1"/>
<text x="368.4" y="552.422" font-size="9.0" text-anchor="end" textLength="4.40" lengthAdjust="spacingAndGlyphs" fill="#333" stroke="#333" stroke-width="0.15">0</text>
<line x1="371.60" y1="530.70" x2="374.80" y2="530.70" stroke="#222" stroke-width="1.1"/>
<text x="368.4" y="533.922" font-size="9.0" text-anchor="end" textLength="8.80" lengthAdjust="spacingAndGlyphs" fill="#333" stroke="#333" stroke-width="0.15">10</text>
<line x1="371.60" y1="512.20" x2="374.80" y2="512.20" stroke="#222" stroke-width="1.1"/>
<text x="368.4" y="515.422" font-size="9.0" text-anchor="end" textLength="8.80" lengthAdjust="spacingAndGlyphs" fill="#333" stroke="#333" stroke-width="0.15">20</text>
<line x1="371.60" y1="493.70" x2="374.80" y2="493.70" stroke="#222" stroke-width="1.1"/>
<text x="368.4" y="496.922" font-size="9.0" text-anchor="end" textLength="8.80" lengthAdjust="spacingAndGlyphs" fill="#333" stroke="#333" stroke-width="0.15">30</text>
<line x1="371.60" y1="475.20" x2="374.80" y2="475.20" stroke="#222" stroke-width="1.1"/>
<text x="368.4" y="478.422" font-size="9.0" text-anchor="end" textLength="8.80" lengthAdjust="spacingAndGlyphs" fill="#333" stroke="#333" stroke-width="0.15">40</text>
<line x1="371.60" y1="456.70" x2="374.80" y2="456.70" stroke="#222" stroke-width="1.1"/>
<text x="368.4" y="459.922" font-size="9.0" text-anchor="end" textLength="8.80" lengthAdjust="spacingAndGlyphs" fill="#333" stroke="#333" stroke-width="0.15">50</text>
<line x1="374.80" y1="549.20" x2="510.40" y2="549.20" stroke="#222" stroke-width="1.3"/>
<line x1="392.50" y1="549.20" x2="392.50" y2="552.40" stroke="#222" stroke-width="1.0"/>
<line x1="427.30" y1="549.20" x2="427.30" y2="552.40" stroke="#222" stroke-width="1.0"/>
<line x1="462.00" y1="549.20" x2="462.00" y2="552.40" stroke="#222" stroke-width="1.0"/>
<line x1="496.00" y1="549.20" x2="496.00" y2="552.40" stroke="#222" stroke-width="1.0"/>
<g transform="translate(392.50,549.20) rotate(-45)"><text x="-5.00" y="10.30" font-size="9.4" fill="#333" text-anchor="end" textLength="12.50" lengthAdjust="spacingAndGlyphs" stroke="#333" stroke-width="0.15">Ctl</text></g>
<g transform="translate(427.30,549.20) rotate(-45)"><text x="-7.00" y="10.30" font-size="9.4" fill="#333" text-anchor="end" textLength="33.50" lengthAdjust="spacingAndGlyphs" stroke="#333" stroke-width="0.15">Anti-CD3</text></g>
<g transform="translate(462.00,549.20) rotate(-45)"><text x="-7.00" y="10.30" font-size="9.4" fill="#333" text-anchor="end" textLength="33.50" lengthAdjust="spacingAndGlyphs" stroke="#333" stroke-width="0.15">Anti-CD3</text><text x="-7.00" y="20.70" font-size="9.4" fill="#333" text-anchor="end" textLength="36.50" lengthAdjust="spacingAndGlyphs" stroke="#333" stroke-width="0.15">Birinapant</text></g>
<g transform="translate(496.00,549.20) rotate(-45)"><text x="-6.50" y="10.30" font-size="9.4" fill="#333" text-anchor="end" textLength="23.50" lengthAdjust="spacingAndGlyphs" stroke="#333" stroke-width="0.15">RIPK1i</text><text x="-7.00" y="20.70" font-size="9.4" fill="#333" text-anchor="end" textLength="33.50" lengthAdjust="spacingAndGlyphs" stroke="#333" stroke-width="0.15">Anti-CD3</text><text x="-7.00" y="31.10" font-size="9.4" fill="#333" text-anchor="end" textLength="36.50" lengthAdjust="spacingAndGlyphs" stroke="#333" stroke-width="0.15">Birinapant</text></g>
<text x="57.70" y="448.4" font-size="10.0" textLength="84.40" lengthAdjust="spacing" fill="#2a2a2a" stroke="#2a2a2a" stroke-width="0.08">% of leukemic cells</text>
<text x="142.30" y="444.90" font-size="7.0" fill="#222" stroke="#222" stroke-width="0.15">+</text>
<text x="228.30" y="436.6" font-size="10.0" textLength="84.40" lengthAdjust="spacing" fill="#2a2a2a" stroke="#2a2a2a" stroke-width="0.08">% of leukemic cells</text>
<text x="313.00" y="432.90" font-size="7.0" fill="#222" stroke="#222" stroke-width="0.15">+</text>
<text x="228.60" y="447.8" font-size="10.0" textLength="88.70" lengthAdjust="spacing" fill="#2a2a2a" stroke="#2a2a2a" stroke-width="0.08">for Casp 3/7 activity</text>
<text x="409.50" y="436.7" font-size="10.0" textLength="84.00" lengthAdjust="spacing" fill="#2a2a2a" stroke="#2a2a2a" stroke-width="0.08">% of leukemic cells</text>
<text x="493.50" y="433.20" font-size="7.0" fill="#222" stroke="#222" stroke-width="0.15">+</text>
<text x="414.70" y="447.8" font-size="10.0" textLength="79.40" lengthAdjust="spacing" fill="#2a2a2a" stroke="#2a2a2a" stroke-width="0.08">for Casp 8 activity</text>
<line x1="87.80" y1="469.10" x2="118.30" y2="469.10" stroke="#3a3a3a" stroke-width="1.05"/>
<text x="103.2" y="468.20000000000005" font-size="8.2" text-anchor="middle" fill="#222" stroke="#222" stroke-width="0.15">**</text>
<line x1="123.20" y1="469.10" x2="154.00" y2="469.10" stroke="#3a3a3a" stroke-width="1.05"/>
<text x="138.6" y="468.20000000000005" font-size="8.2" text-anchor="middle" fill="#222" stroke="#222" stroke-width="0.15">*</text>
<line x1="259.40" y1="469.00" x2="288.80" y2="469.00" stroke="#3a3a3a" stroke-width="1.05"/>
<text x="273.6" y="468.1" font-size="8.2" text-anchor="middle" fill="#222" stroke="#222" stroke-width="0.15">**</text>
<line x1="294.20" y1="469.00" x2="324.50" y2="469.00" stroke="#3a3a3a" stroke-width="1.05"/>
<text x="309.0" y="468.1" font-size="8.2" text-anchor="middle" fill="#222" stroke="#222" stroke-width="0.15">*</text>
<line x1="430.00" y1="469.00" x2="459.50" y2="469.00" stroke="#3a3a3a" stroke-width="1.05"/>
<text x="444.8" y="468.1" font-size="8.2" text-anchor="middle" fill="#222" stroke="#222" stroke-width="0.15">***</text>
<line x1="465.20" y1="469.00" x2="495.10" y2="469.00" stroke="#3a3a3a" stroke-width="1.05"/>
<text x="480.1" y="468.1" font-size="8.2" text-anchor="middle" fill="#222" stroke="#222" stroke-width="0.15">*</text>
<circle cx="50.20" cy="473.50" r="1.95" fill="#1d4a7c"/>
<circle cx="47.20" cy="502.80" r="1.95" fill="#1d4a7c"/>
<circle cx="53.30" cy="503.70" r="1.95" fill="#1d4a7c"/>
<circle cx="53.10" cy="513.80" r="1.95" fill="#1d4a7c"/>
<circle cx="47.20" cy="516.10" r="1.95" fill="#1d4a7c"/>
<line x1="50.20" y1="494.30" x2="50.20" y2="509.50" stroke="#1d4a7c" stroke-width="1.0"/>
<line x1="44.60" y1="494.30" x2="55.80" y2="494.30" stroke="#1d4a7c" stroke-width="1.1"/>
<line x1="44.60" y1="509.50" x2="55.80" y2="509.50" stroke="#1d4a7c" stroke-width="1.1"/>
<line x1="38.70" y1="502.00" x2="61.90" y2="502.00" stroke="#2a2a2a" stroke-width="1.3"/>
<rect x="80.25" y="507.15" width="3.70" height="3.70" fill="#c3123a"/>
<rect x="86.05" y="505.95" width="3.70" height="3.70" fill="#c3123a"/>
<rect x="80.25" y="513.45" width="3.70" height="3.70" fill="#c3123a"/>
<rect x="86.35" y="518.05" width="3.70" height="3.70" fill="#c3123a"/>
<rect x="83.15" y="525.25" width="3.70" height="3.70" fill="#c3123a"/>
<line x1="84.90" y1="512.40" x2="84.90" y2="519.50" stroke="#c3123a" stroke-width="1.0"/>
<line x1="78.95" y1="512.40" x2="90.85" y2="512.40" stroke="#c3123a" stroke-width="1.1"/>
<line x1="78.95" y1="519.50" x2="90.85" y2="519.50" stroke="#c3123a" stroke-width="1.1"/>
<line x1="73.20" y1="516.00" x2="96.80" y2="516.00" stroke="#2a2a2a" stroke-width="1.3"/>
<polygon points="117.20,522.74 115.35,526.37 119.05,526.37" fill="#3a9e44"/>
<polygon points="114.20,531.34 112.35,534.96 116.05,534.96" fill="#3a9e44"/>
<polygon points="119.90,533.44 118.05,537.06 121.75,537.06" fill="#3a9e44"/>
<polygon points="125.30,531.64 123.45,535.26 127.15,535.26" fill="#3a9e44"/>
<polygon points="122.40,527.24 120.55,530.87 124.25,530.87" fill="#3a9e44"/>
<line x1="119.70" y1="528.40" x2="119.70" y2="532.80" stroke="#3a9e44" stroke-width="1.0"/>
<line x1="113.95" y1="528.40" x2="125.45" y2="528.40" stroke="#3a9e44" stroke-width="1.1"/>
<line x1="113.95" y1="532.80" x2="125.45" y2="532.80" stroke="#3a9e44" stroke-width="1.1"/>
<line x1="108.00" y1="530.70" x2="131.20" y2="530.70" stroke="#2a2a2a" stroke-width="1.3"/>
<polygon points="151.70,517.86 149.85,514.24 153.55,514.24" fill="#f2a022"/>
<polygon points="157.60,517.56 155.75,513.94 159.45,513.94" fill="#f2a022"/>
<polygon points="151.70,530.86 149.85,527.24 153.55,527.24" fill="#f2a022"/>
<polygon points="157.90,524.76 156.05,521.13 159.75,521.13" fill="#f2a022"/>
<line x1="154.80" y1="519.20" x2="154.80" y2="524.40" stroke="#f2a022" stroke-width="1.0"/>
<line x1="149.05" y1="519.20" x2="160.55" y2="519.20" stroke="#f2a022" stroke-width="1.1"/>
<line x1="149.05" y1="524.40" x2="160.55" y2="524.40" stroke="#f2a022" stroke-width="1.1"/>
<line x1="143.00" y1="521.80" x2="166.70" y2="521.80" stroke="#2a2a2a" stroke-width="1.3"/>
<circle cx="215.60" cy="535.00" r="1.95" fill="#1d4a7c"/>
<circle cx="218.50" cy="531.10" r="1.95" fill="#1d4a7c"/>
<circle cx="224.20" cy="531.10" r="1.95" fill="#1d4a7c"/>
<circle cx="221.30" cy="537.90" r="1.95" fill="#1d4a7c"/>
<circle cx="226.70" cy="536.20" r="1.95" fill="#1d4a7c"/>
<line x1="221.40" y1="533.00" x2="221.40" y2="535.60" stroke="#1d4a7c" stroke-width="1.0"/>
<line x1="216.90" y1="533.00" x2="225.90" y2="533.00" stroke="#1d4a7c" stroke-width="1.1"/>
<line x1="216.90" y1="535.60" x2="225.90" y2="535.60" stroke="#1d4a7c" stroke-width="1.1"/>
<line x1="210.10" y1="534.30" x2="232.90" y2="534.30" stroke="#2a2a2a" stroke-width="1.3"/>
<rect x="254.15" y="502.15" width="3.70" height="3.70" fill="#c3123a"/>
<rect x="251.25" y="509.75" width="3.70" height="3.70" fill="#c3123a"/>
<rect x="256.95" y="508.75" width="3.70" height="3.70" fill="#c3123a"/>
<rect x="254.15" y="515.55" width="3.70" height="3.70" fill="#c3123a"/>
<rect x="254.15" y="529.55" width="3.70" height="3.70" fill="#c3123a"/>
<line x1="256.00" y1="510.40" x2="256.00" y2="520.00" stroke="#c3123a" stroke-width="1.0"/>
<line x1="250.05" y1="510.40" x2="261.95" y2="510.40" stroke="#c3123a" stroke-width="1.1"/>
<line x1="250.05" y1="520.00" x2="261.95" y2="520.00" stroke="#c3123a" stroke-width="1.1"/>
<line x1="244.00" y1="515.20" x2="267.80" y2="515.20" stroke="#2a2a2a" stroke-width="1.3"/>
<polygon points="290.30,478.13 288.45,481.77 292.15,481.77" fill="#3a9e44"/>
<polygon points="290.30,484.73 288.45,488.37 292.15,488.37" fill="#3a9e44"/>
<polygon points="284.80,490.53 282.95,494.17 286.65,494.17" fill="#3a9e44"/>
<polygon points="296.40,491.63 294.55,495.27 298.25,495.27" fill="#3a9e44"/>
<polygon points="290.30,494.53 288.45,498.17 292.15,498.17" fill="#3a9e44"/>
<line x1="290.50" y1="486.30" x2="290.50" y2="492.30" stroke="#3a9e44" stroke-width="1.0"/>
<line x1="284.55" y1="486.30" x2="296.45" y2="486.30" stroke="#3a9e44" stroke-width="1.1"/>
<line x1="284.55" y1="492.30" x2="296.45" y2="492.30" stroke="#3a9e44" stroke-width="1.1"/>
<line x1="278.80" y1="489.30" x2="302.10" y2="489.30" stroke="#2a2a2a" stroke-width="1.3"/>
<polygon points="324.80,494.17 322.95,490.53 326.65,490.53" fill="#f2a022"/>
<polygon points="319.80,497.37 317.95,493.73 321.65,493.73" fill="#f2a022"/>
<polygon points="330.60,497.07 328.75,493.44 332.45,493.44" fill="#f2a022"/>
<polygon points="325.10,500.27 323.25,496.63 326.95,496.63" fill="#f2a022"/>
<polygon points="325.10,510.37 323.25,506.73 326.95,506.73" fill="#f2a022"/>
<line x1="325.20" y1="495.80" x2="325.20" y2="501.20" stroke="#f2a022" stroke-width="1.0"/>
<line x1="319.70" y1="495.80" x2="330.70" y2="495.80" stroke="#f2a022" stroke-width="1.1"/>
<line x1="319.70" y1="501.20" x2="330.70" y2="501.20" stroke="#f2a022" stroke-width="1.1"/>
<line x1="314.40" y1="498.30" x2="336.60" y2="498.30" stroke="#2a2a2a" stroke-width="1.3"/>
<circle cx="392.10" cy="523.90" r="1.95" fill="#1d4a7c"/>
<circle cx="383.30" cy="532.30" r="1.95" fill="#1d4a7c"/>
<circle cx="400.70" cy="531.80" r="1.95" fill="#1d4a7c"/>
<circle cx="389.20" cy="536.60" r="1.95" fill="#1d4a7c"/>
<circle cx="395.00" cy="535.90" r="1.95" fill="#1d4a7c"/>
<line x1="392.30" y1="529.20" x2="392.30" y2="534.20" stroke="#1d4a7c" stroke-width="1.0"/>
<line x1="386.80" y1="529.20" x2="397.80" y2="529.20" stroke="#1d4a7c" stroke-width="1.1"/>
<line x1="386.80" y1="534.20" x2="397.80" y2="534.20" stroke="#1d4a7c" stroke-width="1.1"/>
<line x1="381.50" y1="532.30" x2="403.90" y2="532.30" stroke="#2a2a2a" stroke-width="1.3"/>
<rect x="430.45" y="502.25" width="3.70" height="3.70" fill="#c3123a"/>
<rect x="419.35" y="506.65" width="3.70" height="3.70" fill="#c3123a"/>
<rect x="425.15" y="506.95" width="3.70" height="3.70" fill="#c3123a"/>
<rect x="425.15" y="520.65" width="3.70" height="3.70" fill="#c3123a"/>
<line x1="427.00" y1="507.60" x2="427.00" y2="514.80" stroke="#c3123a" stroke-width="1.0"/>
<line x1="421.25" y1="507.60" x2="432.75" y2="507.60" stroke="#c3123a" stroke-width="1.1"/>
<line x1="421.25" y1="514.80" x2="432.75" y2="514.80" stroke="#c3123a" stroke-width="1.1"/>
<line x1="415.40" y1="511.30" x2="438.10" y2="511.30" stroke="#2a2a2a" stroke-width="1.3"/>
<polygon points="458.50,477.23 456.65,480.87 460.35,480.87" fill="#3a9e44"/>
<polygon points="464.20,479.03 462.35,482.67 466.05,482.67" fill="#3a9e44"/>
<polygon points="455.90,482.63 454.05,486.27 457.75,486.27" fill="#3a9e44"/>
<polygon points="461.60,487.63 459.75,491.27 463.45,491.27" fill="#3a9e44"/>
<polygon points="467.10,485.93 465.25,489.56 468.95,489.56" fill="#3a9e44"/>
<line x1="461.60" y1="482.20" x2="461.60" y2="487.00" stroke="#3a9e44" stroke-width="1.0"/>
<line x1="456.10" y1="482.20" x2="467.10" y2="482.20" stroke="#3a9e44" stroke-width="1.1"/>
<line x1="456.10" y1="487.00" x2="467.10" y2="487.00" stroke="#3a9e44" stroke-width="1.1"/>
<line x1="450.10" y1="484.60" x2="473.20" y2="484.60" stroke="#2a2a2a" stroke-width="1.3"/>
<polygon points="493.40,487.97 491.55,484.33 495.25,484.33" fill="#f2a022"/>
<polygon points="498.80,487.27 496.95,483.63 500.65,483.63" fill="#f2a022"/>
<polygon points="496.30,495.67 494.45,492.03 498.15,492.03" fill="#f2a022"/>
<polygon points="493.40,502.87 491.55,499.23 495.25,499.23" fill="#f2a022"/>
<line x1="496.00" y1="490.20" x2="496.00" y2="495.60" stroke="#f2a022" stroke-width="1.0"/>
<line x1="490.50" y1="490.20" x2="501.50" y2="490.20" stroke="#f2a022" stroke-width="1.1"/>
<line x1="490.50" y1="495.60" x2="501.50" y2="495.60" stroke="#f2a022" stroke-width="1.1"/>
<line x1="484.70" y1="492.90" x2="507.80" y2="492.90" stroke="#2a2a2a" stroke-width="1.3"/>
</g>
<rect x="0.55" y="0.55" width="518.9" height="606.9" fill="none" stroke="#555" stroke-width="1.1"/>
</svg>
</body></html>
